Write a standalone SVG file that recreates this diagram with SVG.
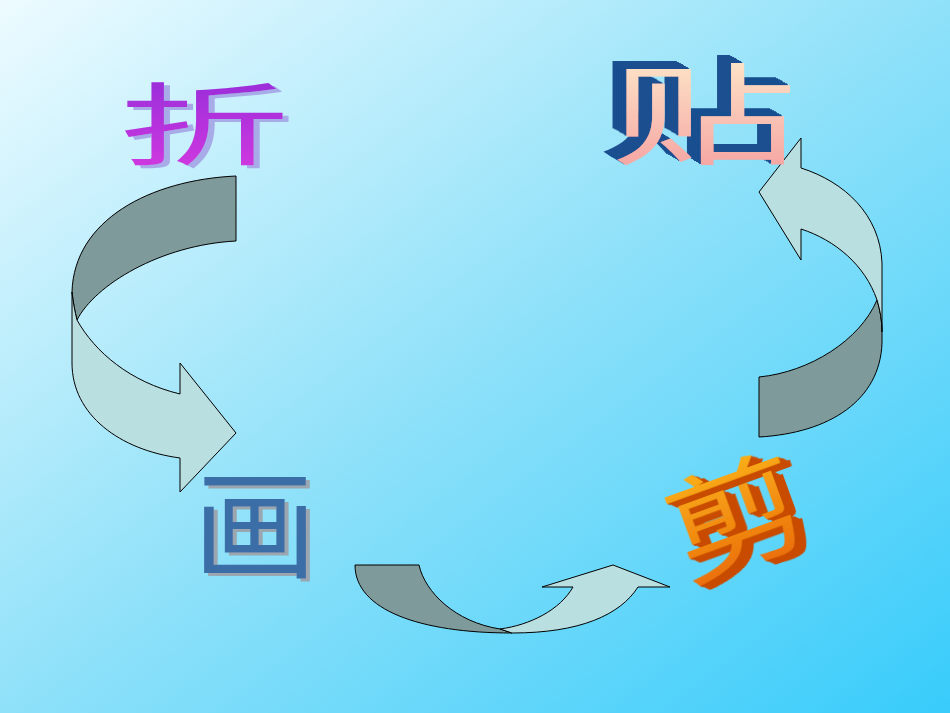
<svg xmlns="http://www.w3.org/2000/svg" width="950" height="713" viewBox="0 0 950 713">
<defs>
<linearGradient id="bg" x1="0" y1="0" x2="1" y2="1">
<stop offset="0" stop-color="#edfbff"/>
<stop offset="0.5" stop-color="#8fe1f9"/>
<stop offset="1" stop-color="#38ccfb"/>
</linearGradient>
<linearGradient id="gZhe" x1="0" y1="0" x2="0" y2="1">
<stop offset="0" stop-color="#8a2ad8"/>
<stop offset="1" stop-color="#d83ae0"/>
</linearGradient>
<linearGradient id="gTie" x1="0" y1="0" x2="0" y2="1">
<stop offset="0" stop-color="#fff6d2"/>
<stop offset="1" stop-color="#f49a9c"/>
</linearGradient>
<linearGradient id="gJian" x1="0" y1="0" x2="0" y2="1">
<stop offset="0" stop-color="#ffc21a"/>
<stop offset="1" stop-color="#e8620a"/>
</linearGradient>
<filter id="shZhe" x="-20%" y="-20%" width="140%" height="140%">
<feFlood flood-color="#a7ace8"/>
<feComposite in2="SourceAlpha" operator="in"/>
<feOffset dx="3" dy="3" result="s"/>
<feMerge><feMergeNode in="s"/><feMergeNode in="SourceGraphic"/></feMerge>
</filter>
<filter id="shHua" x="-20%" y="-20%" width="140%" height="140%">
<feFlood flood-color="#9aa6b0"/>
<feComposite in2="SourceAlpha" operator="in"/>
<feOffset dx="4" dy="3" result="s"/>
<feMerge><feMergeNode in="s"/><feMergeNode in="SourceGraphic"/></feMerge>
</filter>
<filter id="exTie" x="-20%" y="-20%" width="140%" height="140%">
<feFlood flood-color="#1d4f90"/>
<feComposite in2="SourceAlpha" operator="in" result="c"/>
<feOffset in="c" dx="-1" dy="-1" result="o1"/>
<feOffset in="c" dx="-2" dy="-2" result="o2"/>
<feOffset in="c" dx="-3" dy="-3" result="o3"/>
<feOffset in="c" dx="-4" dy="-4" result="o4"/>
<feOffset in="c" dx="-5" dy="-5" result="o5"/>
<feOffset in="c" dx="-6" dy="-6" result="o6"/>
<feOffset in="c" dx="-7" dy="-7" result="o7"/>
<feOffset in="c" dx="-8" dy="-8" result="o8"/>
<feMerge><feMergeNode in="o8"/><feMergeNode in="o7"/><feMergeNode in="o6"/><feMergeNode in="o5"/><feMergeNode in="o4"/><feMergeNode in="o3"/><feMergeNode in="o2"/><feMergeNode in="o1"/><feMergeNode in="SourceGraphic"/></feMerge>
</filter>
<filter id="exJian" x="-20%" y="-20%" width="140%" height="140%">
<feFlood flood-color="#c84c06"/>
<feComposite in2="SourceAlpha" operator="in" result="c"/>
<feOffset in="c" dx="1" dy="1" result="o1"/>
<feOffset in="c" dx="2" dy="2" result="o2"/>
<feOffset in="c" dx="3" dy="3" result="o3"/>
<feOffset in="c" dx="4" dy="4" result="o4"/>
<feOffset in="c" dx="5" dy="5" result="o5"/>
<feOffset in="c" dx="6" dy="6" result="o6"/>
<feOffset in="c" dx="7" dy="7" result="o7"/>
<feOffset in="c" dx="8" dy="7" result="o8"/>
<feMerge><feMergeNode in="o8"/><feMergeNode in="o7"/><feMergeNode in="o6"/><feMergeNode in="o5"/><feMergeNode in="o4"/><feMergeNode in="o3"/><feMergeNode in="o2"/><feMergeNode in="o1"/><feMergeNode in="SourceGraphic"/></feMerge>
</filter>
<style>
.ch{font-family:"Noto Sans CJK SC","Noto Sans CJK TC",sans-serif;text-anchor:middle;dominant-baseline:central}
.dk{fill:#7f9a9a;stroke:#000;stroke-width:1;stroke-linejoin:round}
.lt{fill:#badfe1;stroke:#000;stroke-width:1;stroke-linejoin:round}
</style>
</defs>
<rect width="950" height="713" fill="url(#bg)"/>

<g id="connectors">
<g id="arrow-zhe-hua">
<path class="dk" d="M236,176 C150,180 74,220 72,292 C73,302 75,312 77,320 C95,285 160,245 236,241 Z"/>
<path class="lt" d="M72,292 L72,363 C72,415 120,450 180,458 L180,492 L236,433 L180,363 L180,394 C130,382 95,352 77,320 C75,312 73,302 72,292 Z"/>
</g>
<g id="arrow-hua-jian">
<path class="dk" d="M355,565 L419,565 C425,592 455,622 500,629 L512,633 C420,633 355,610 355,565 Z"/>
<path class="lt" d="M500,629 C530,625 560,610 573,587 L542,587 L613,565 L670,587 L638,587 C620,615 580,633 512,633 Z"/>
</g>
<g id="arrow-jian-tie">
<path class="dk" d="M759,377 C810,372 860,340 877,300 C880,310 882,320 882,332 L882,343 C880,400 830,433 759,437 Z"/>
<path class="lt" d="M877,300 C865,265 835,240 801,229 L801,260 L759,192 L801,138 L801,168 C845,182 880,215 882,263 L882,332 C882,320 880,310 877,300 Z"/>
</g>
</g>

<g id="node-zhe">
<text class="ch" font-size="90" fill="url(#gZhe)" filter="url(#shZhe)" transform="translate(204,118) scale(1.9,1)">折</text>
</g>

<g id="node-tie">
<text class="ch" font-size="110" fill="url(#gTie)" filter="url(#exTie)" transform="translate(704,108) scale(1.7,1)">贴</text>
</g>

<g id="node-hua">
<text class="ch" font-size="118" fill="#3b6ea6" filter="url(#shHua)" transform="translate(255,518) scale(1.05,1)">画</text>
</g>

<g id="node-jian">
<text class="ch" font-size="115" fill="url(#gJian)" filter="url(#exJian)" transform="translate(733,510) rotate(-20) scale(1.2,1)">剪</text>
</g>
</svg>
